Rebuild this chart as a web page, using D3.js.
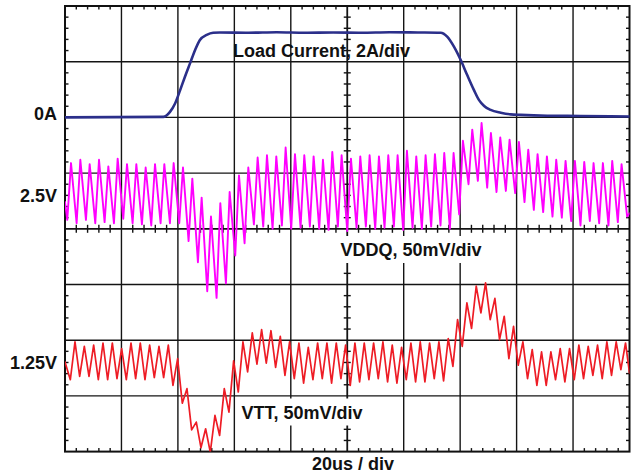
<!DOCTYPE html>
<html>
<head>
<meta charset="utf-8">
<script src="https://cdn.jsdelivr.net/npm/d3@7"></script>
<style>
  body { margin: 0; background: #fff; }
  svg { display: block; }
  text { font-family: "Liberation Sans", Arial, Helvetica, sans-serif; font-weight: bold; font-size: 18px; fill: #111; }
</style>
</head>
<body>
<svg id="scope" width="634" height="475"></svg>
<script>
// ---- Time base: 20 us per division, 10 divisions ----
const timeTicksUs = [0, 20, 40, 60, 80, 100, 120, 140, 160, 180, 200];
const divisionTicks = [-4, -3, -2, -1, 0, 1, 2, 3, 4];
const timeLabel = "20us / div";

// ---- Channel annotations ----
const channelNames = ["Load Current, 2A/div", "VDDQ, 50mV/div", "VTT, 50mV/div"];
const levelLabels = ["0A", "2.5V", "1.25V"];

// ---- Load current step (A) ----
const currentTimeUs = [0, 34.8, 37.2, 39.0, 40.8, 42.5, 44.3, 46.1, 47.8, 50.2,
  52.5, 54.9, 65, 75, 85, 95, 105, 115, 125, 133.1,
  135.4, 137.8, 140.2, 142.5, 144.9, 146.7, 148.5, 150.8, 154.4, 157.9,
  161.5, 170.9, 182.7, 200];
const currentAmps = [0, 0.02, 0.2, 0.5, 0.98, 1.46, 1.94, 2.42, 2.78, 2.96,
  3.04, 3.05, 3.04, 3.06, 3.04, 3.05, 3.04, 3.06, 3.05, 3.04,
  2.90, 2.54, 2.06, 1.52, 0.98, 0.62, 0.41, 0.27, 0.17, 0.11,
  0.09, 0.06, 0.05, 0.03];

// ---- Switching ripple: one peak and one trough per switching cycle ----
const switchPeriodUs = 3.306;

// VDDQ deviation from 2.5 V, mV
const vddqFirstPeakUs = 2.13;
const vddqRiseFraction = 0.4;
const vddqStartMv = -5;
const vddqPeaksMv = [30, 33, 29, 33, 27, 34, 29, 29, 26, 29,
  29, 30, 26, 16, -1, -18, -6, 4, 19, 26,
  35, 37, 36, 44, 38, 37, 36, 33, 40, 37,
  34, 36, 37, 36, 37, 37, 41, 36, 37, 38,
  39, 39, 50, 60, 66, 57, 53, 51, 49, 42,
  38, 36, 33, 32, 32, 31, 30, 30, 32, 29];
const vddqTroughsMv = [-21, -24, -21, -24, -23, -24, -20, -24, -25, -26,
  -24, -24, -24, -40, -59, -85, -91, -78, -53, -42,
  -25, -27, -29, -26, -29, -28, -27, -29, -30, -27,
  -31, -28, -27, -29, -28, -27, -30, -28, -29, -27,
  -26, -29, -16, 11, 14, 8, 4, 5, 3, -5,
  -12, -14, -18, -19, -22, -26, -22, -24, -26, -23];
const vddqTailMv = [-18, -15];

// VTT deviation from 1.25 V, mV
const vttFirstPeakUs = 3.54;
const vttRiseFraction = 0.5;
const vttStartMv = 0;
const vttPeaksMv = [18, 14, 15, 17, 17, 12, 17, 17, 15, 14,
  15, 3, -24, -54, -60, -48, -24, 1, 18, 26,
  29, 28, 23, 18, 17, 13, 17, 17, 17, 15,
  17, 17, 17, 18, 15, 13, 17, 18, 17, 18,
  21, 38, 53, 68, 71, 57, 41, 32, 18, 11,
  9, 9, 12, 12, 15, 14, 15, 18, 18, 17];
const vttTroughsMv = [-16, -13, -13, -16, -16, -15, -16, -15, -16, -14,
  -14, -21, -37, -61, -77, -81, -66, -45, -27, -9,
  -2, -1, -5, -12, -15, -19, -16, -15, -19, -15,
  -21, -18, -16, -15, -18, -19, -16, -18, -18, -15,
  -17, -4, 14, 30, 44, 38, 20, 3, -3, -15,
  -21, -21, -16, -18, -16, -15, -12, -15, -12, -7];
const vttTailMv = [-10];

// ---- Screen geometry ----
const plot = { left: 65, right: 629.5, top: 6, bottom: 451.6 };
const svg = d3.select("#scope");

const x = d3.scaleLinear().domain([0, 200]).range([plot.left, plot.right]);
const yDiv = d3.scaleLinear().domain([4, -4]).range([plot.top, plot.bottom]);
// per-channel vertical scales (offset in divisions, units per division)
const yCurrent = d3.scaleLinear().domain([0, 2]).range([yDiv(2), yDiv(3)]);
const yVddq = d3.scaleLinear().domain([0, 50]).range([yDiv(0.58), yDiv(1.58)]);
const yVtt = d3.scaleLinear().domain([0, 50]).range([yDiv(-2.39), yDiv(-1.39)]);

// ---- Graticule ----
const grid = svg.append("g").attr("stroke", "#141414").attr("fill", "none");
grid.selectAll(".gv").data(timeTicksUs.slice(1, -1)).join("line")
  .attr("x1", d => x(d)).attr("x2", d => x(d))
  .attr("y1", plot.top).attr("y2", plot.bottom)
  .attr("stroke-width", d => d === 100 ? 1.8 : 1.4);
grid.selectAll(".gh").data(divisionTicks.slice(1, -1)).join("line")
  .attr("x1", plot.left).attr("x2", plot.right)
  .attr("y1", d => yDiv(d)).attr("y2", d => yDiv(d))
  .attr("stroke-width", d => d === 0 ? 1.8 : 1.4);

// minor ticks, five per division
const minorT = d3.range(0, 200.001, 4).filter(t => t % 20 !== 0);
const minorD = d3.range(-4, 4.001, 0.2).map(v => +v.toFixed(1)).filter(v => Math.abs(v - Math.round(v)) > 1e-6);
const ticks = svg.append("g").attr("stroke", "#141414").attr("stroke-width", 1.4);
const tl = 3.5;
ticks.selectAll(".tt").data(minorT).join("line")
  .attr("x1", d => x(d)).attr("x2", d => x(d)).attr("y1", plot.top).attr("y2", plot.top + tl);
ticks.selectAll(".tb").data(minorT).join("line")
  .attr("x1", d => x(d)).attr("x2", d => x(d)).attr("y1", plot.bottom).attr("y2", plot.bottom - tl);
ticks.selectAll(".tc").data(minorT).join("line")
  .attr("x1", d => x(d)).attr("x2", d => x(d)).attr("y1", yDiv(0) - 4).attr("y2", yDiv(0) + 4);
ticks.selectAll(".tlft").data(minorD).join("line")
  .attr("y1", d => yDiv(d)).attr("y2", d => yDiv(d)).attr("x1", plot.left).attr("x2", plot.left + tl);
ticks.selectAll(".trt").data(minorD).join("line")
  .attr("y1", d => yDiv(d)).attr("y2", d => yDiv(d)).attr("x1", plot.right).attr("x2", plot.right - tl);
ticks.selectAll(".tcv").data(minorD).join("line")
  .attr("y1", d => yDiv(d)).attr("y2", d => yDiv(d)).attr("x1", x(100) - 3.5).attr("x2", x(100) + 3.5);

svg.append("rect")
  .attr("x", plot.left).attr("y", plot.top)
  .attr("width", plot.right - plot.left).attr("height", plot.bottom - plot.top)
  .attr("fill", "none").attr("stroke", "#111").attr("stroke-width", 2);

// ---- Traces ----
svg.append("clipPath").attr("id", "clip").append("rect")
  .attr("x", plot.left).attr("y", plot.top)
  .attr("width", plot.right - plot.left).attr("height", plot.bottom - plot.top);
const traces = svg.append("g").attr("clip-path", "url(#clip)").attr("fill", "none")
  .attr("stroke-linejoin", "round").attr("stroke-linecap", "round");

function rippleSeries(firstPeak, rise, start, troughs, peaks, tail) {
  const pts = [[0, start]];
  peaks.forEach((p, k) => {
    const tp = firstPeak + k * switchPeriodUs;
    pts.push([tp - rise * switchPeriodUs, troughs[k]]);
    pts.push([tp, p]);
  });
  const lastPeak = firstPeak + (peaks.length - 1) * switchPeriodUs;
  if (tail.length === 2) {
    pts.push([lastPeak + (1 - rise) * switchPeriodUs, tail[0]]);
    pts.push([200, tail[1]]);
  } else {
    pts.push([200, tail[0]]);
  }
  return pts;
}

const vttPts = rippleSeries(vttFirstPeakUs, vttRiseFraction, vttStartMv, vttTroughsMv, vttPeaksMv, vttTailMv);
traces.append("path")
  .attr("d", d3.line().x(d => x(d[0])).y(d => yVtt(d[1]))(vttPts))
  .attr("stroke", "#ee1c25").attr("stroke-width", 1.7);

const vddqPts = rippleSeries(vddqFirstPeakUs, vddqRiseFraction, vddqStartMv, vddqTroughsMv, vddqPeaksMv, vddqTailMv);
traces.append("path")
  .attr("d", d3.line().x(d => x(d[0])).y(d => yVddq(d[1]))(vddqPts))
  .attr("stroke", "#ff00ff").attr("stroke-width", 1.9);

traces.append("path")
  .attr("d", d3.line().curve(d3.curveMonotoneX)
    .x((d, i) => x(currentTimeUs[i])).y(d => yCurrent(d))(currentAmps))
  .attr("stroke", "#2b2f8a").attr("stroke-width", 2.6);

// ---- Annotations ----
function boxedLabel(text, tx, baseline, boxed) {
  const g = svg.append("g");
  const t = g.append("text").attr("x", tx).attr("y", baseline).text(text);
  if (boxed) {
    const b = t.node().getBBox();
    g.insert("rect", "text")
      .attr("x", b.x - 2).attr("y", baseline - 20)
      .attr("width", b.width + 4).attr("height", 27)
      .attr("fill", "#fff");
  }
}
boxedLabel(channelNames[0], 233, 56.5, false);
boxedLabel(channelNames[1], 340.5, 256, true);
boxedLabel(channelNames[2], 241.5, 418.5, true);

// marker labels sit just above / on their reference level
const levelBaselineOffset = [2.6, 5.5, 7.4];
const levelY = [yCurrent(0), yVddq(0), yVtt(0)];
svg.selectAll(".lvl").data(levelLabels).join("text")
  .attr("x", 57).attr("y", (d, i) => levelY[i] + levelBaselineOffset[i])
  .attr("text-anchor", "end").text(d => d);

svg.append("text").attr("x", 353).attr("y", 470).attr("text-anchor", "middle").text(timeLabel);
</script>
</body>
</html>
